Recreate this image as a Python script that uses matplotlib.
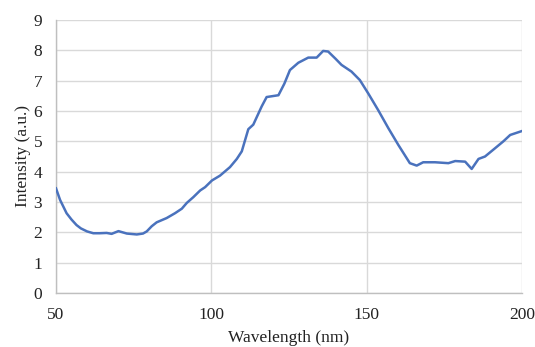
import matplotlib
matplotlib.use("Agg")
import matplotlib.pyplot as plt

wavelength = [50, 51.3, 53.4, 55, 56.6, 58, 60, 62, 64, 66.3, 67.9, 70.1, 72.8, 76, 78, 79.2,
              80.8, 82.4, 85.6, 88.3, 90.5, 92.1, 94.2, 96.4, 98, 100.2, 102.8, 106, 108.2,
              109.8, 111.9, 113.5, 116.2, 117.8, 121.6, 123.5, 125.3, 128, 131.2, 133.9, 136,
              137.6, 140, 141.9, 145.1, 147.8, 150.5, 153.7, 157, 160.2, 163.9, 166.1, 168.2,
              172, 176.3, 178.5, 181.7, 183.8, 186, 188.1, 191.3, 194, 196.2, 200]
intensity = [3.45, 3.07, 2.63, 2.42, 2.24, 2.13, 2.03, 1.97, 1.97, 1.98, 1.95, 2.04, 1.96, 1.93,
             1.96, 2.03, 2.2, 2.33, 2.47, 2.63, 2.78, 2.97, 3.16, 3.38, 3.49, 3.71, 3.87, 4.15,
             4.42, 4.67, 5.4, 5.55, 6.15, 6.46, 6.52, 6.9, 7.35, 7.59, 7.76, 7.76, 7.98, 7.96,
             7.72, 7.52, 7.3, 7.02, 6.58, 6.03, 5.43, 4.88, 4.28, 4.2, 4.31, 4.31, 4.28, 4.35,
             4.33, 4.09, 4.42, 4.5, 4.77, 5.0, 5.21, 5.34]

x_ticks = [50, 100, 150, 200]
y_ticks = [0, 1, 2, 3, 4, 5, 6, 7, 8, 9]

plt.rcParams['font.family'] = ['Liberation Serif', 'DejaVu Serif']

fig = plt.figure(figsize=(5.35, 3.47), dpi=100)
ax = fig.add_axes([0.1047, 0.1556, 0.8710, 0.7868])

ax.plot(wavelength, intensity, color='#4a72bd', linewidth=1.8, zorder=3)

ax.set_xlim(50, 200)
ax.set_ylim(0, 9)
ax.set_xticks(x_ticks)
ax.set_yticks(y_ticks)
ax.grid(True, color='#d9d9d9', linewidth=1.0, zorder=0)
ax.set_axisbelow(True)

for side in ['top', 'right']:
    ax.spines[side].set_visible(False)
for side in ['left', 'bottom']:
    ax.spines[side].set_color('#bfbfbf')
    ax.spines[side].set_linewidth(1.0)

ax.tick_params(length=0, labelsize=12.5, colors='#222222')
ax.tick_params(axis='x', pad=10)
ax.tick_params(axis='y', pad=10)

ax.set_xlabel('Wavelength (nm)', fontsize=12.5, color='#222222', labelpad=5)
ax.set_ylabel('Intensity (a.u.)', fontsize=12.5, color='#222222', labelpad=2)

fig.savefig('out.png', dpi=100)
